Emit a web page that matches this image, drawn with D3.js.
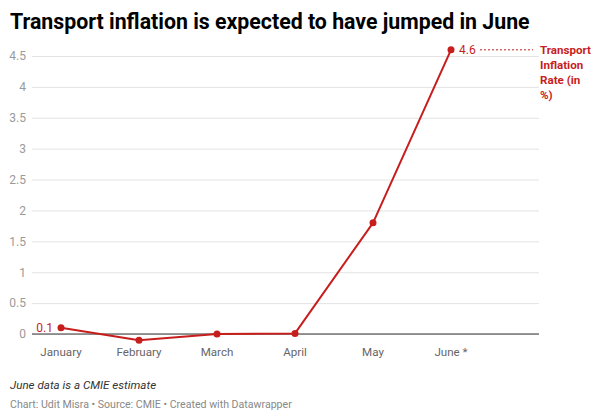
<!DOCTYPE html>
<html>
<head>
<meta charset="utf-8">
<script src="https://cdn.jsdelivr.net/npm/d3@7"></script>
<style>
  body { margin: 0; background: #fff; font-family: Roboto, sans-serif; }
  svg text { font-family: Roboto, sans-serif; }
</style>
</head>
<body>
<svg class="chart"></svg>
<script>
var width = 600,
    height = 420

var months = ["January", "February", "March", "April", "May", "June *"]
var inflation = [0.1, -0.1, 0.0, 0.01, 1.8, 4.6]
var yTicks = [0, 0.5, 1, 1.5, 2, 2.5, 3, 3.5, 4, 4.5]
var seriesName = ["Transport", "Inflation", "Rate (in", "%)"]

var red = "#c71e1d"

var svg = d3.select(".chart")
    .attr("width", width)
    .attr("height", height)

// title
svg.append("text")
    .attr("x", 10)
    .attr("y", 29)
    .attr("font-size", 21.3)
    .attr("font-weight", "bold")
    .attr("fill", "#000")
    .text("Transport inflation is expected to have jumped in June")

var xScale = d3.scaleBand()
    .domain(months)
    .range([22, 490])

var yScale = d3.scaleLinear()
    .domain([0, 4.5])
    .range([334, 56])

var gridLeft = 32, gridRight = 539

// grid
var yAxis = d3.axisLeft(yScale)
    .tickValues(yTicks)
    .tickSize(-(gridRight - gridLeft))
    .tickPadding(6)
    .tickFormat(d => d)

svg.append("g")
    .attr("transform", `translate(${gridLeft},0)`)
    .call(yAxis)
    .call(g => g.select(".domain").remove())
    .call(g => g.selectAll(".tick line").attr("stroke", "#e3e3e3"))
    .call(g => g.selectAll(".tick text")
        .attr("fill", "#9a9a9a")
        .attr("font-size", 12)
        .attr("x", -6))

// baseline
svg.append("line")
    .attr("x1", gridLeft)
    .attr("x2", gridRight)
    .attr("y1", yScale(0))
    .attr("y2", yScale(0))
    .attr("stroke", "#333")
    .attr("stroke-width", 1)

// x labels
var xAxis = d3.axisBottom(xScale).tickSize(0).tickPadding(14)
svg.append("g")
    .attr("transform", `translate(0,${yScale(0)})`)
    .call(xAxis)
    .call(g => g.select(".domain").remove())
    .call(g => g.selectAll(".tick text")
        .attr("fill", "#666")
        .attr("font-size", 11.6))

var cx = d => xScale(d) + xScale.bandwidth() / 2

var line = d3.line()
    .x((d, i) => cx(months[i]))
    .y(d => yScale(d))

svg.append("path")
    .datum(inflation)
    .attr("fill", "none")
    .attr("stroke", red)
    .attr("stroke-width", 2)
    .attr("stroke-linejoin", "round")
    .attr("d", line)

svg.append("g")
    .selectAll("circle")
    .data(inflation)
    .join("circle")
    .attr("cx", (d, i) => cx(months[i]))
    .attr("cy", d => yScale(d))
    .attr("r", 3.5)
    .attr("fill", red)

// value labels
var first = 0, last = inflation.length - 1
svg.append("text")
    .attr("x", cx(months[first]) - 8)
    .attr("y", yScale(inflation[first]) + 4)
    .attr("text-anchor", "end")
    .attr("font-size", 12)
    .attr("fill", red)
    .text(inflation[first])

svg.append("text")
    .attr("x", cx(months[last]) + 8)
    .attr("y", yScale(inflation[last]) + 4)
    .attr("font-size", 12)
    .attr("fill", red)
    .text(inflation[last])

svg.append("line")
    .attr("x1", cx(months[last]) + 29)
    .attr("x2", gridRight - 6)
    .attr("y1", yScale(inflation[last]))
    .attr("y2", yScale(inflation[last]))
    .attr("stroke", red)
    .attr("stroke-width", 1)
    .attr("stroke-dasharray", "2,2")

svg.append("text")
    .attr("font-size", 11.6)
    .attr("font-weight", "bold")
    .attr("fill", red)
    .selectAll("tspan")
    .data(seriesName)
    .join("tspan")
    .attr("x", gridRight + 1)
    .attr("y", (d, i) => yScale(inflation[last]) + 4 + i * 15)
    .text(d => d)

// notes
svg.append("text")
    .attr("x", 10)
    .attr("y", 389)
    .attr("font-size", 11.6)
    .attr("font-style", "italic")
    .attr("fill", "#333")
    .text("June data is a CMIE estimate")

svg.append("text")
    .attr("x", 10)
    .attr("y", 408)
    .attr("font-size", 10.6)
    .attr("fill", "#888")
    .text("Chart: Udit Misra • Source: CMIE • Created with Datawrapper")
</script>
</body>
</html>
